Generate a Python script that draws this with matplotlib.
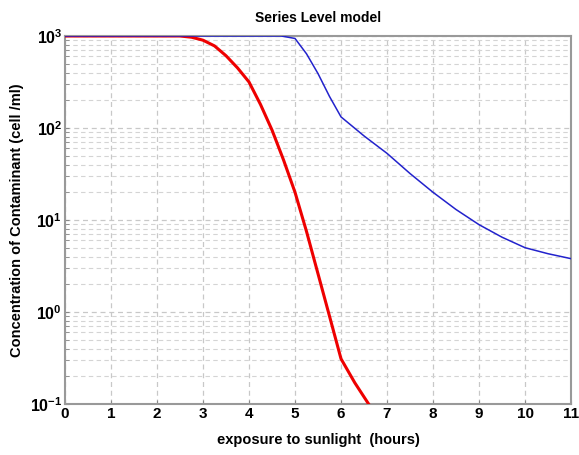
import matplotlib
matplotlib.use("Agg")
import numpy as np
import matplotlib.pyplot as plt
from matplotlib.ticker import LogLocator, FixedFormatter, FixedLocator

# exposure time (hours) and concentrations for the two series
red_hours = [0, 1, 2, 2.5, 2.75, 3, 3.25, 3.5, 3.75, 4, 4.25, 4.5, 4.75, 5,
             5.25, 5.5, 5.75, 6, 6.3, 6.6, 7]
red_conc = [1000, 1000, 1000, 1000, 970, 900, 780, 610, 450, 316, 180, 95, 45, 20,
            7.5, 2.6, 0.9, 0.31, 0.17, 0.1, 0.05]

blue_hours = [0, 1, 2, 3, 4, 4.7, 5, 5.25, 5.5, 5.75, 6, 6.5, 7, 7.5, 8, 8.5,
              9, 9.5, 10, 10.5, 11]
blue_conc = [1000, 1000, 1000, 1000, 1000, 1000, 940, 640, 390, 220, 132, 82, 53,
             32, 20, 13, 8.9, 6.5, 5.0, 4.3, 3.8]

x_ticks = list(range(0, 12))
y_ticks = [0.1, 1, 10, 100, 1000]
y_tick_labels = [r"$\mathbf{10^{-1}}$", r"$\mathbf{10^{0}}$", r"$\mathbf{10^{1}}$",
                 r"$\mathbf{10^{2}}$", r"$\mathbf{10^{3}}$"]

plt.rcParams["font.family"] = ["Liberation Sans", "DejaVu Sans"]
plt.rcParams["mathtext.fontset"] = "custom"
plt.rcParams["mathtext.bf"] = "Liberation Sans:bold"
plt.rcParams["mathtext.rm"] = "Liberation Sans"

fig = plt.figure(figsize=(5.79, 4.55), dpi=100)
ax = fig.add_axes([0.1123, 0.1121, 0.8739, 0.8088])

ax.plot(red_hours, red_conc, color="#ee0000", linewidth=2.2, zorder=3)
ax.plot(blue_hours, blue_conc, color="#2222cc", linewidth=1.1, zorder=3)

ax.set_yscale("log")
ax.set_xlim(0, 11)
ax.set_ylim(0.1, 1000)

ax.xaxis.set_major_locator(FixedLocator(x_ticks))
ax.set_xticklabels([str(t) for t in x_ticks], fontsize=11, fontweight="bold")
ax.yaxis.set_major_locator(FixedLocator(y_ticks))
ax.yaxis.set_major_formatter(FixedFormatter(y_tick_labels))
ax.yaxis.set_minor_locator(LogLocator(base=10, subs=np.arange(2, 10)))
ax.tick_params(axis="y", labelsize=11.5)
ax.tick_params(axis="both", which="both", direction="in", length=3, color="#888888", pad=2)

ax.grid(True, which="major", axis="both", linestyle=(0, (4, 3)), color="#c8c8c8", linewidth=0.9)
ax.grid(True, which="minor", axis="y", linestyle=(0, (4, 3)), color="#d4d4d4", linewidth=0.8)

for sp in ax.spines.values():
    sp.set_color("#999999")
    sp.set_linewidth(1.5)

ax.set_title("Series Level model", fontsize=10, fontweight="bold", pad=10)
ax.set_xlabel("exposure to sunlight  (hours)", fontsize=10.5, fontweight="bold", labelpad=9)
ax.set_ylabel("Concentration of Contaminant (cell /ml)", fontsize=10.5, fontweight="bold", labelpad=4)

fig.savefig("out.png", dpi=100)
